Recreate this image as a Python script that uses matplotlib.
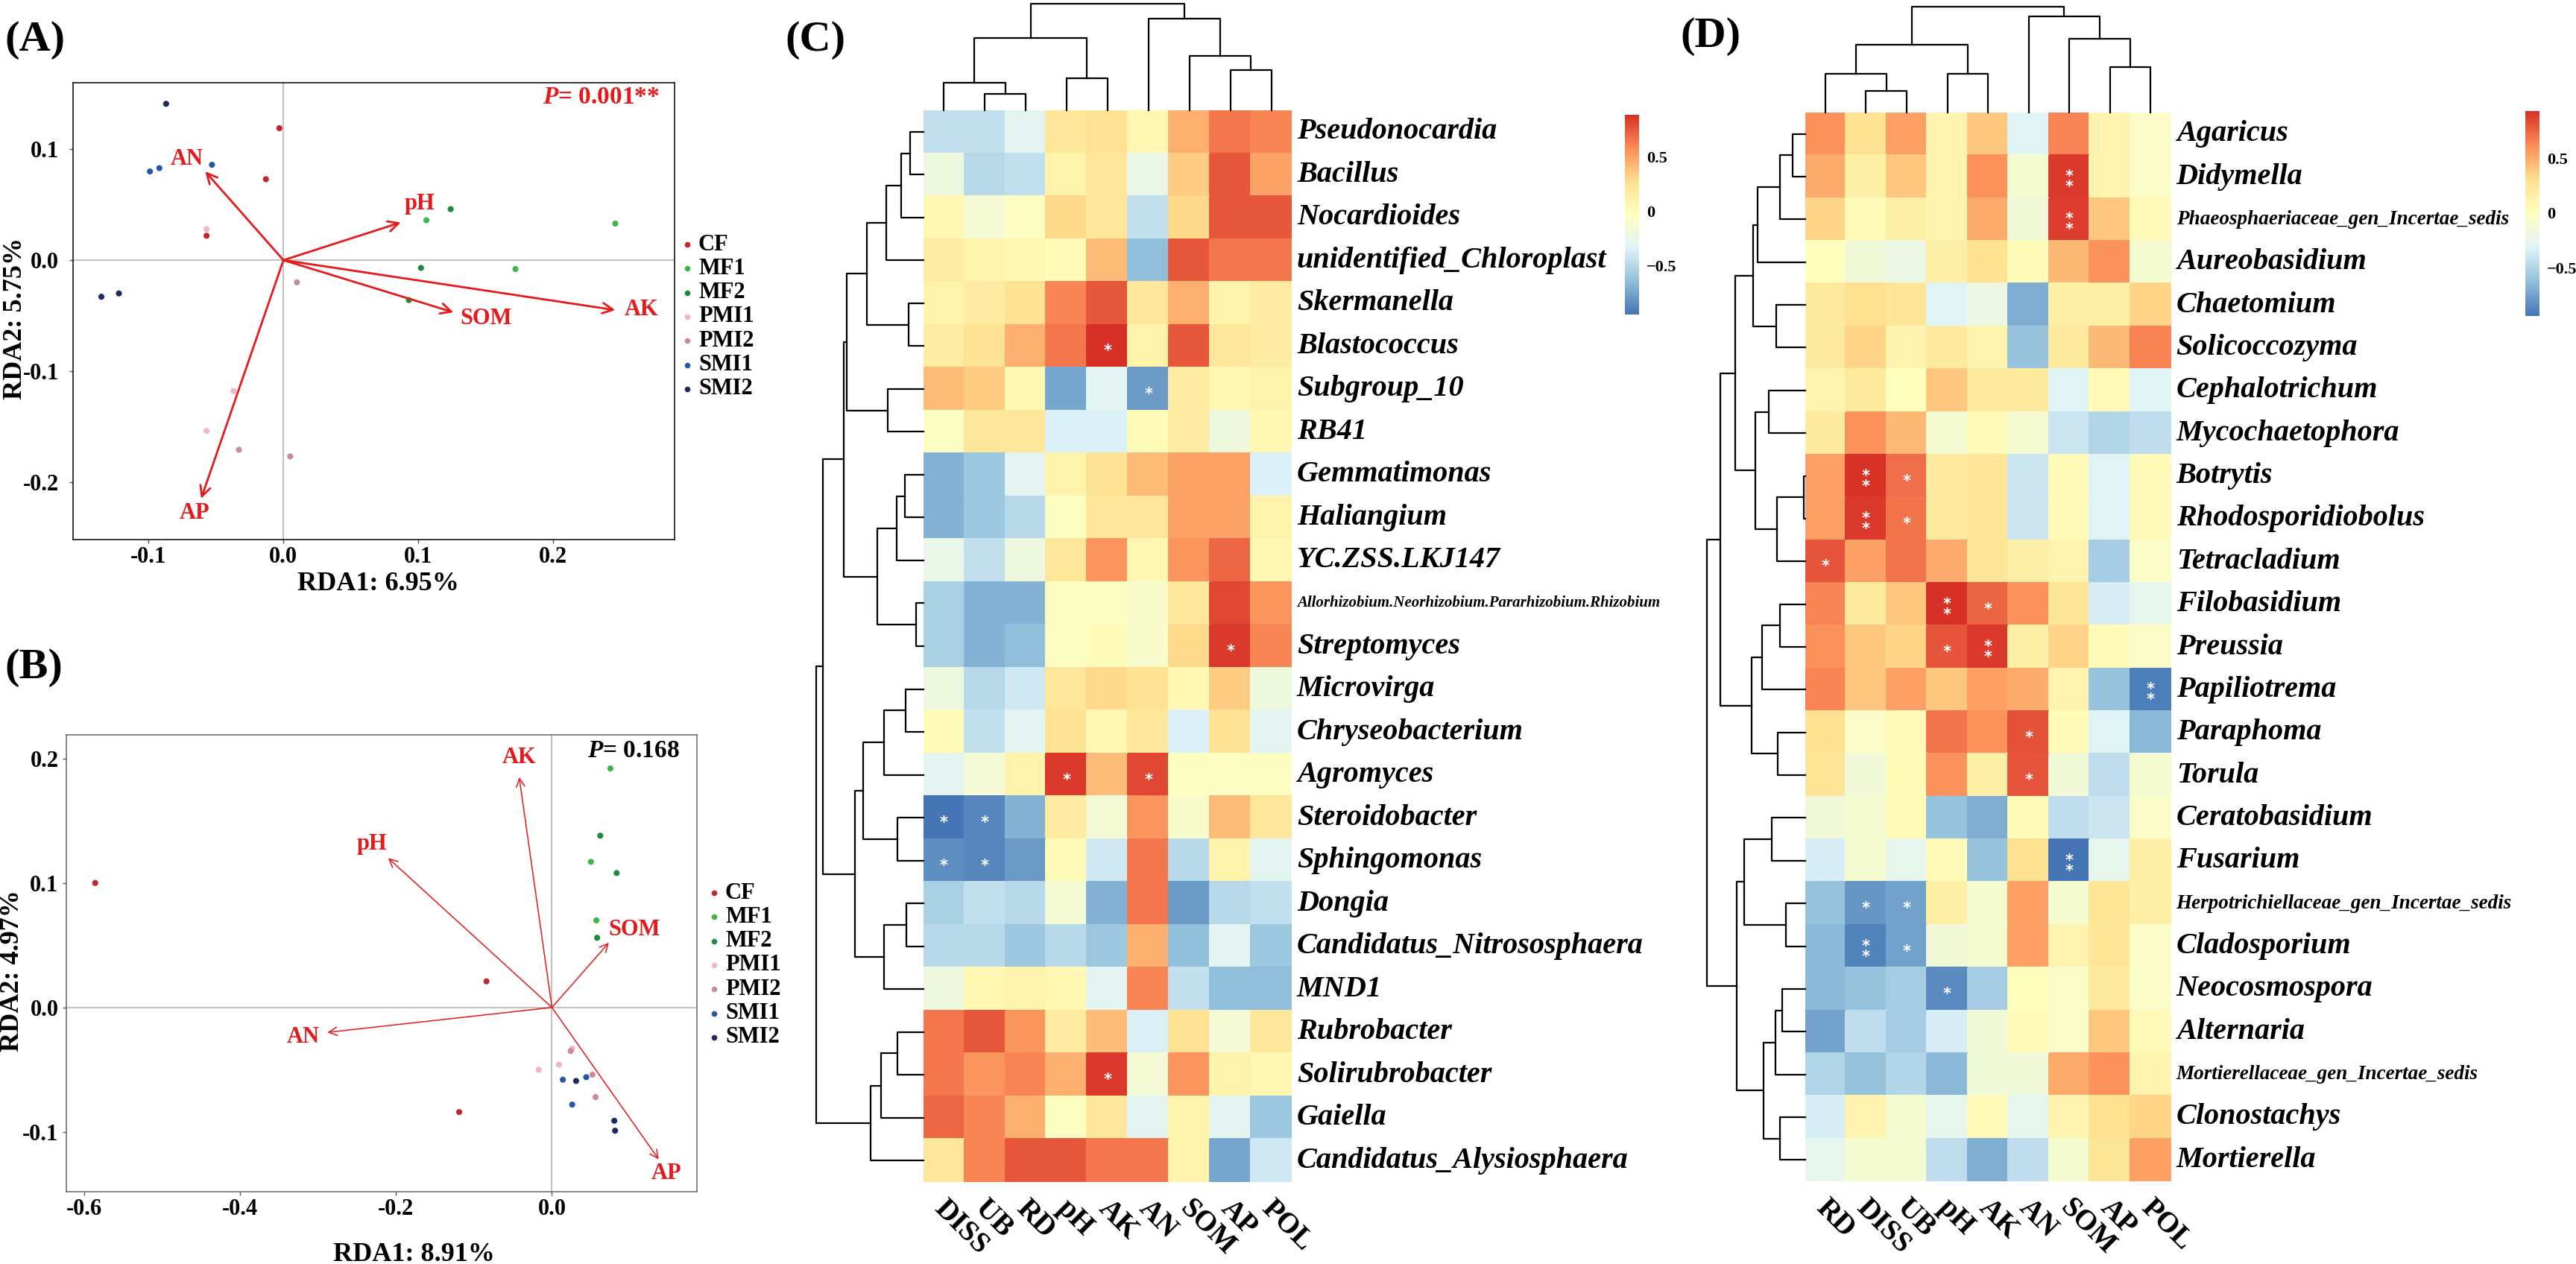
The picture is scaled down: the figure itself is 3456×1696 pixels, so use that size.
import numpy as np
import matplotlib
matplotlib.use("Agg")
import matplotlib.pyplot as plt
from matplotlib.colors import LinearSegmentedColormap, Normalize
from matplotlib.cm import ScalarMappable
from matplotlib.lines import Line2D
from matplotlib.transforms import offset_copy

plt.rcParams['font.family'] = ['Liberation Serif', 'DejaVu Serif']
plt.rcParams['font.weight'] = 'bold'
plt.rcParams['mathtext.fontset'] = 'custom'
plt.rcParams['mathtext.it'] = 'Liberation Serif:italic:bold'
plt.rcParams['mathtext.rm'] = 'Liberation Serif:bold'

W, H = 3456, 1696
RED = '#E41A1C'

# ---------------- data ----------------
groups = ['CF', 'MF1', 'MF2', 'PMI1', 'PMI2', 'SMI1', 'SMI2']
group_colors = ['#C0272D', '#3DB549', '#1E8A3E', '#F3B4C3', '#C78C9C', '#2656A8', '#1B2B5E']
env_names = ['AN', 'pH', 'SOM', 'AK', 'AP']

# (A) RDA, bacteria
a_grp = ['CF'] * 3 + ['MF1'] * 3 + ['MF2'] * 3 + ['PMI1'] * 3 + ['PMI2'] * 3 + ['SMI1'] * 3 + ['SMI2'] * 3
a_x = [-0.003, -0.013, -0.057, 0.106, 0.246, 0.172, 0.124, 0.102, 0.093,
       -0.057, -0.037, -0.057, 0.010, -0.033, 0.005, -0.099, -0.092, -0.053,
       -0.087, -0.135, -0.122]
a_y = [0.119, 0.073, 0.022, 0.036, 0.033, -0.008, 0.046, -0.007, -0.036,
       0.028, -0.118, -0.154, -0.020, -0.171, -0.177, 0.080, 0.083, 0.086,
       0.141, -0.033, -0.030]
a_env_x = [-0.058, 0.087, 0.126, 0.246, -0.061]
a_env_y = [0.080, 0.034, -0.047, -0.045, -0.215]
a_xticks = [-0.1, 0.0, 0.1, 0.2]
a_xticklabels = ['-0.1', '0.0', '0.1', '0.2']
a_yticks = [-0.2, -0.1, 0.0, 0.1]
a_yticklabels = ['-0.2', '-0.1', '0.0', '0.1']

# (B) RDA, fungi
b_grp = a_grp
b_x = [-0.586, -0.084, -0.119, 0.075, 0.050, 0.057, 0.062, 0.083, 0.058,
       -0.017, 0.009, 0.026, 0.024, 0.052, 0.056, 0.014, 0.044, 0.026,
       0.031, 0.080, 0.081]
b_y = [0.100, 0.021, -0.084, 0.192, 0.117, 0.070, 0.138, 0.108, 0.056,
       -0.050, -0.046, -0.033, -0.035, -0.054, -0.072, -0.058, -0.056, -0.078,
       -0.059, -0.091, -0.099]
b_env_x = [-0.288, -0.210, 0.073, -0.042, 0.137]
b_env_y = [-0.020, 0.120, 0.052, 0.185, -0.122]
b_xticks = [-0.6, -0.4, -0.2, 0.0]
b_xticklabels = ['-0.6', '-0.4', '-0.2', '0.0']
b_yticks = [-0.1, 0.0, 0.1, 0.2]
b_yticklabels = ['-0.1', '0.0', '0.1', '0.2']

# (C) bacteria heatmap
c_cols = ['DISS', 'UB', 'RD', 'pH', 'AK', 'AN', 'SOM', 'AP', 'POL']
c_rows = ['Pseudonocardia', 'Bacillus', 'Nocardioides', 'unidentified_Chloroplast',
          'Skermanella', 'Blastococcus', 'Subgroup_10', 'RB41', 'Gemmatimonas',
          'Haliangium', 'YC.ZSS.LKJ147', 'Allorhizobium.Neorhizobium.Pararhizobium.Rhizobium',
          'Streptomyces', 'Microvirga', 'Chryseobacterium', 'Agromyces', 'Steroidobacter',
          'Sphingomonas', 'Dongia', 'Candidatus_Nitrososphaera', 'MND1', 'Rubrobacter',
          'Solirubrobacter', 'Gaiella', 'Candidatus_Alysiosphaera']
c_vals = [
    [-0.45, -0.45, -0.30, 0.20, 0.25, 0.05, 0.45, 0.65, 0.60],
    [-0.20, -0.50, -0.45, 0.10, 0.20, -0.25, 0.35, 0.75, 0.50],
    [0.05, -0.15, -0.05, 0.30, 0.20, -0.45, 0.30, 0.75, 0.75],
    [0.15, 0.10, 0.05, 0.00, 0.40, -0.65, 0.75, 0.65, 0.65],
    [0.10, 0.15, 0.25, 0.60, 0.75, 0.20, 0.45, 0.10, 0.15],
    [0.15, 0.25, 0.45, 0.65, 0.88, 0.10, 0.75, 0.20, 0.15],
    [0.40, 0.35, 0.05, -0.75, -0.30, -0.80, 0.15, 0.05, 0.10],
    [-0.05, 0.20, 0.20, -0.35, -0.35, 0.00, 0.15, -0.20, 0.05],
    [-0.70, -0.60, -0.30, 0.10, 0.25, 0.40, 0.50, 0.50, -0.35],
    [-0.70, -0.60, -0.50, -0.05, 0.20, 0.20, 0.50, 0.50, 0.10],
    [-0.25, -0.45, -0.20, 0.20, 0.55, 0.05, 0.55, 0.70, 0.05],
    [-0.55, -0.70, -0.70, -0.05, -0.05, -0.10, 0.20, 0.80, 0.55],
    [-0.55, -0.70, -0.65, -0.05, 0.00, -0.10, 0.30, 0.85, 0.60],
    [-0.20, -0.50, -0.40, 0.20, 0.30, 0.25, 0.05, 0.35, -0.20],
    [0.00, -0.45, -0.30, 0.25, 0.05, 0.20, -0.35, 0.25, -0.30],
    [-0.30, -0.15, 0.10, 0.85, 0.40, 0.80, -0.05, -0.05, -0.05],
    [-0.95, -0.88, -0.70, 0.15, -0.15, 0.55, -0.10, 0.40, 0.20],
    [-0.85, -0.88, -0.80, 0.00, -0.40, 0.65, -0.50, 0.10, -0.30],
    [-0.55, -0.45, -0.50, -0.15, -0.70, 0.65, -0.80, -0.50, -0.45],
    [-0.50, -0.50, -0.60, -0.50, -0.60, 0.45, -0.65, -0.30, -0.60],
    [-0.20, 0.05, 0.10, 0.05, -0.30, 0.60, -0.45, -0.65, -0.65],
    [0.65, 0.75, 0.55, 0.15, 0.40, -0.35, 0.25, -0.15, 0.20],
    [0.65, 0.55, 0.60, 0.45, 0.85, -0.15, 0.55, 0.10, 0.05],
    [0.70, 0.60, 0.45, -0.05, 0.20, -0.30, 0.10, -0.30, -0.60],
    [0.20, 0.60, 0.75, 0.75, 0.65, 0.65, 0.10, -0.75, -0.40],
]
c_sig = [('Blastococcus', 'AK', '*'), ('Subgroup_10', 'AN', '*'), ('Streptomyces', 'AP', '*'),
         ('Agromyces', 'pH', '*'), ('Agromyces', 'AN', '*'), ('Steroidobacter', 'DISS', '*'),
         ('Steroidobacter', 'UB', '*'), ('Sphingomonas', 'DISS', '*'), ('Sphingomonas', 'UB', '*'),
         ('Solirubrobacter', 'AK', '*')]
# hierarchical merges: (left, right, height); new nodes are numbered after the leaves
c_row_merges = [(0, 1, 52), (25, 2, 90), (26, 3, 148), (4, 5, 58), (27, 28, 227),
                (6, 7, 142), (29, 30, 308), (8, 9, 73), (32, 10, 108), (11, 12, 28),
                (33, 34, 183), (31, 35, 318), (13, 14, 72), (37, 15, 158), (16, 17, 105),
                (38, 39, 240), (18, 19, 68), (41, 20, 158), (40, 42, 273), (36, 43, 403),
                (21, 22, 104), (45, 23, 170), (46, 24, 210), (44, 47, 430)]
c_col_merges = [(1, 2, 20), (0, 9, 34), (3, 4, 40), (10, 11, 90), (7, 8, 50),
                (6, 13, 67), (5, 14, 114), (12, 15, 132)]
c_range = (-0.952, 0.884)

# (D) fungi heatmap
d_cols = ['RD', 'DISS', 'UB', 'pH', 'AK', 'AN', 'SOM', 'AP', 'POL']
d_rows = ['Agaricus', 'Didymella', 'Phaeosphaeriaceae_gen_Incertae_sedis', 'Aureobasidium',
          'Chaetomium', 'Solicoccozyma', 'Cephalotrichum', 'Mycochaetophora', 'Botrytis',
          'Rhodosporidiobolus', 'Tetracladium', 'Filobasidium', 'Preussia', 'Papiliotrema',
          'Paraphoma', 'Torula', 'Ceratobasidium', 'Fusarium',
          'Herpotrichiellaceae_gen_Incertae_sedis', 'Cladosporium', 'Neocosmospora',
          'Alternaria', 'Mortierellaceae_gen_Incertae_sedis', 'Clonostachys', 'Mortierella']
d_vals = [
    [0.60, 0.30, 0.55, 0.10, 0.40, -0.30, 0.65, 0.10, -0.05],
    [0.50, 0.15, 0.40, 0.10, 0.60, -0.10, 0.90, 0.10, -0.05],
    [0.35, 0.05, 0.15, 0.10, 0.50, -0.15, 0.88, 0.40, 0.05],
    [0.00, -0.15, -0.20, 0.15, 0.30, 0.05, 0.45, 0.60, -0.10],
    [0.20, 0.30, 0.25, -0.30, -0.20, -0.70, 0.15, 0.15, 0.35],
    [0.20, 0.35, 0.10, 0.20, 0.10, -0.60, 0.20, 0.45, 0.65],
    [0.10, 0.20, 0.00, 0.40, 0.20, 0.20, -0.30, 0.05, -0.30],
    [0.20, 0.60, 0.45, -0.10, 0.05, -0.10, -0.40, -0.50, -0.45],
    [0.55, 0.92, 0.72, 0.20, 0.25, -0.40, 0.05, -0.30, 0.05],
    [0.55, 0.90, 0.70, 0.20, 0.25, -0.40, 0.05, -0.30, 0.05],
    [0.80, 0.55, 0.70, 0.50, 0.25, 0.15, 0.10, -0.55, -0.05],
    [0.65, 0.20, 0.40, 0.93, 0.75, 0.60, 0.25, -0.35, -0.25],
    [0.60, 0.40, 0.35, 0.80, 0.90, 0.15, 0.35, 0.05, -0.05],
    [0.65, 0.40, 0.55, 0.40, 0.55, 0.50, 0.10, -0.60, -0.90],
    [0.30, -0.05, 0.05, 0.70, 0.60, 0.82, 0.05, -0.30, -0.65],
    [0.25, -0.15, 0.05, 0.60, 0.15, 0.80, -0.15, -0.45, -0.10],
    [-0.15, -0.10, 0.05, -0.60, -0.70, 0.05, -0.45, -0.40, -0.05],
    [-0.35, -0.10, -0.25, 0.05, -0.60, 0.30, -0.94, -0.25, 0.15],
    [-0.60, -0.80, -0.75, 0.15, -0.10, 0.55, -0.10, 0.25, 0.15],
    [-0.65, -0.88, -0.75, -0.15, -0.10, 0.55, 0.10, 0.25, -0.05],
    [-0.65, -0.60, -0.55, -0.85, -0.55, 0.00, -0.05, 0.20, -0.05],
    [-0.75, -0.45, -0.55, -0.35, -0.15, 0.05, -0.05, 0.40, 0.05],
    [-0.50, -0.60, -0.50, -0.65, -0.15, -0.15, 0.50, 0.60, 0.10],
    [-0.35, 0.10, -0.10, -0.25, 0.05, -0.25, 0.10, 0.30, 0.35],
    [-0.25, -0.10, -0.10, -0.45, -0.70, -0.45, -0.10, 0.25, 0.55],
]
d_sig = [('Didymella', 'SOM', '**'), ('Phaeosphaeriaceae_gen_Incertae_sedis', 'SOM', '**'),
         ('Botrytis', 'DISS', '**'), ('Botrytis', 'UB', '*'),
         ('Rhodosporidiobolus', 'DISS', '**'), ('Rhodosporidiobolus', 'UB', '*'),
         ('Tetracladium', 'RD', '*'), ('Filobasidium', 'pH', '**'), ('Filobasidium', 'AK', '*'),
         ('Preussia', 'pH', '*'), ('Preussia', 'AK', '**'), ('Papiliotrema', 'POL', '**'),
         ('Paraphoma', 'AN', '*'), ('Torula', 'AN', '*'), ('Fusarium', 'SOM', '**'),
         ('Herpotrichiellaceae_gen_Incertae_sedis', 'DISS', '*'),
         ('Herpotrichiellaceae_gen_Incertae_sedis', 'UB', '*'),
         ('Cladosporium', 'DISS', '**'), ('Cladosporium', 'UB', '*'), ('Neocosmospora', 'pH', '*')]
d_row_merges = [(0, 1, 50), (25, 2, 101), (26, 3, 193), (4, 5, 117), (27, 28, 210),
                (6, 7, 148), (8, 9, 5), (31, 10, 113), (30, 32, 200), (29, 33, 283),
                (11, 12, 101), (35, 13, 173), (14, 15, 111), (36, 37, 218), (34, 38, 343),
                (16, 17, 135), (18, 19, 78), (40, 41, 246), (20, 21, 93), (43, 22, 121),
                (23, 24, 101), (44, 45, 168), (42, 46, 278), (39, 47, 398)]
d_col_merges = [(1, 2, 27), (0, 9, 48), (3, 4, 48), (10, 11, 85), (7, 8, 57),
                (6, 13, 92), (5, 14, 120), (12, 15, 132)]
d_range = (-0.94, 0.93)

cmap = LinearSegmentedColormap.from_list(
    'rdylbu', ['#4575B4', '#91BFDB', '#E0F3F8', '#FFFFBF', '#FEE090', '#FC8D59', '#D73027'])

fig = plt.figure(figsize=(W / 100, H / 100), dpi=100)


# pixel box (left, top, right, bottom) -> figure fraction rect
def box(l, t, r, b):
    return [l / W, 1 - b / H, (r - l) / W, (b - t) / H]


def ftext(x, y, s, **kw):
    fig.text(x / W, 1 - y / H, s, **kw)


# ---------------- RDA panels ----------------
def rda(rect, xs, ys, grp, ex, ey, xlim, ylim, xt, xtl, yt, ytl, arrow_lw, head,
        lab_style, ptext, pcolor, spine_col, ypad):
    ax = fig.add_axes(rect)
    ax.axhline(0, color='#C4C4C4', lw=1.6, zorder=0)
    ax.axvline(0, color='#C4C4C4', lw=1.6, zorder=0)
    xs = np.array(xs)
    ys = np.array(ys)
    grp = np.array(grp)
    for g, c in zip(groups, group_colors):
        m = grp == g
        ax.scatter(xs[m], ys[m], s=34, color=c, edgecolors='none', zorder=3)
    for name, x, y in zip(env_names, ex, ey):
        ax.annotate('', xy=(x, y), xytext=(0, 0),
                    arrowprops=dict(arrowstyle='->,head_length=0.5,head_width=0.25',
                                    color=RED, lw=arrow_lw, shrinkA=0, shrinkB=0,
                                    mutation_scale=head), zorder=4)
        ha, va, dx, dy = lab_style[name]
        ax.annotate(name, xy=(x, y), xytext=(dx, dy), textcoords='offset pixels',
                    ha=ha, va=va, color=RED, fontsize=22, fontweight='bold', zorder=5)
    ax.set_xlim(*xlim)
    ax.set_ylim(*ylim)
    ax.set_xticks(xt)
    ax.set_xticklabels(xtl)
    ax.set_yticks(yt)
    ax.set_yticklabels(ytl)
    ax.tick_params(axis='both', length=3.6, width=1, color='#555555', labelsize=22)
    ax.tick_params(axis='x', pad=3)
    ax.tick_params(axis='y', pad=ypad)
    for sp in ax.spines.values():
        sp.set_color(spine_col)
        sp.set_linewidth(1.1)
    ax.text(ptext[0], ptext[1], r'$P$= ' + ptext[2], transform=ax.transAxes, ha='right',
            va='center', fontsize=24, color=pcolor)
    return ax


a_style = {'AN': ('right', 'bottom', -3, 2), 'pH': ('left', 'bottom', 5, 10),
           'SOM': ('left', 'center', 9, -9), 'AK': ('left', 'center', 12, 1),
           'AP': ('center', 'top', -9, -5)}
b_style = {'AN': ('right', 'center', -11, -6), 'pH': ('right', 'bottom', -2, 4),
           'SOM': ('left', 'bottom', 0, 3), 'AK': ('center', 'bottom', 0, 12),
           'AP': ('center', 'top', 10, -4)}

rda(box(98, 111, 905, 724), a_x, a_y, a_grp, a_env_x, a_env_y, (-0.156, 0.29), (-0.252, 0.16),
    a_xticks, a_xticklabels, a_yticks, a_yticklabels, 2.0, 20, a_style,
    (1 - 20 / 807, 1 - 20 / 613, '0.001**'), RED, 'black', 10)
rda(box(89, 986, 935, 1599), b_x, b_y, b_grp, b_env_x, b_env_y, (-0.623, 0.186), (-0.148, 0.219),
    b_xticks, b_xticklabels, b_yticks, b_yticklabels, 1.1, 16, b_style,
    (1 - 23 / 846, 1 - 22 / 613, '0.168'), 'black', '#666666', 4)

ftext(507, 784, 'RDA1: 6.95%', ha='center', va='center', fontsize=26)
ftext(21, 427, 'RDA2: 5.75%', ha='center', va='center', fontsize=26, rotation=90)
ftext(555, 1683, 'RDA1: 8.91%', ha='center', va='center', fontsize=26)
ftext(17, 1303, 'RDA2: 4.97%', ha='center', va='center', fontsize=26, rotation=90)

# legends
for top, mx in [(328, 922), (1198, 958)]:
    for i, (g, c) in enumerate(zip(groups, group_colors)):
        yy = top + 32.3 * i
        fig.add_artist(Line2D([mx / W], [1 - yy / H], transform=fig.transFigure, marker='o',
                              ls='', markersize=5.5, color=c, markeredgewidth=0))
        ftext(mx + 15, yy, g, ha='left', va='center', fontsize=22)

for lab, x, y in [('(A)', 47, 54), ('(B)', 45, 896), ('(C)', 1094, 54), ('(D)', 2295, 49)]:
    ftext(x, y, lab, ha='center', va='center', fontsize=42)


# ---------------- heatmaps ----------------
# U-shaped links of a dendrogram, leaves at 0.5, 1.5, ...
def dendro(merges, n):
    pos = {i: i + 0.5 for i in range(n)}
    hgt = {i: 0.0 for i in range(n)}
    shapes = []
    for k, (a, b, h) in enumerate(merges):
        shapes.append(([pos[a], pos[a], pos[b], pos[b]], [hgt[a], h, h, hgt[b]]))
        pos[n + k] = (pos[a] + pos[b]) / 2
        hgt[n + k] = h
    return shapes


def heatmap(rows, cols, vals, sig, row_merges, col_merges, hm, rd, cd, cb, vr, long_fs):
    nr, nc = len(rows), len(cols)
    ax = fig.add_axes(box(*hm))
    norm = Normalize(vmin=vr[0], vmax=vr[1])
    ax.pcolormesh(np.arange(nc + 1), np.arange(nr + 1), np.array(vals), cmap=cmap, norm=norm,
                  edgecolors='face', linewidth=0.3)
    ax.set_xlim(0, nc)
    ax.set_ylim(nr, 0)
    ax.axis('off')

    tr_rows = offset_copy(ax.get_yaxis_transform(), fig=fig, x=7, y=0, units='dots')
    for i, r in enumerate(rows):
        fs = 29 if len(r) <= 30 else long_fs
        ax.text(1.0, i + 0.5, r, transform=tr_rows, ha='left', va='center', fontsize=fs,
                fontstyle='italic', fontweight='bold')
    tr_cols = offset_copy(ax.transData, fig=fig, x=-7, y=-30, units='dots')
    for j, c in enumerate(cols):
        ax.text(j + 0.5, nr, c, transform=tr_cols, ha='left', va='center', rotation=-45,
                rotation_mode='anchor', fontsize=28, fontweight='bold')

    for r, c, mark in sig:
        i, j = rows.index(r), cols.index(c)
        n = len(mark)
        for k in range(n):
            dy = -13 + (k - (n - 1) / 2) * 14
            t = offset_copy(ax.transData, fig=fig, x=0, y=dy, units='dots')
            ax.text(j + 0.5, i + 0.5, '*', transform=t, ha='center', va='baseline',
                    color='white', fontsize=15, family='DejaVu Sans', fontweight='bold')

    axr = fig.add_axes(box(*rd))
    for ys, hs in dendro(row_merges, nr):
        axr.add_line(Line2D(hs, ys, color='black', lw=1.6, clip_on=False))
    axr.set_xlim(max(m[2] for m in row_merges), 0)
    axr.set_ylim(nr, 0)
    axr.axis('off')

    axc = fig.add_axes(box(*cd))
    for xs, hs in dendro(col_merges, nc):
        axc.add_line(Line2D(xs, hs, color='black', lw=1.6, clip_on=False))
    axc.set_xlim(0, nc)
    axc.set_ylim(0, max(m[2] for m in col_merges))
    axc.axis('off')

    cax = fig.add_axes(box(*cb))
    bar = fig.colorbar(ScalarMappable(norm=norm, cmap=cmap), cax=cax)
    bar.outline.set_visible(False)
    bar.set_ticks([-0.5, 0, 0.5])
    bar.set_ticklabels(['\u22120.5', '0', '0.5'])
    cax.tick_params(length=0, pad=7, labelsize=16)


heatmap(c_rows, c_cols, c_vals, c_sig, c_row_merges, c_col_merges,
        (1238.7, 148, 1733, 1586), (1094.8, 148, 1238.7, 1586),
        (1238.7, 5, 1733, 148), (2180, 154, 2199, 422), c_range, 15)
heatmap(d_rows, d_cols, d_vals, d_sig, d_row_merges, d_col_merges,
        (2421.6, 151, 2912.6, 1585), (2290, 151, 2421.6, 1585),
        (2421.6, 9, 2912.6, 151), (3388, 149, 3407, 424), d_range, 19.5)

fig.savefig('out.png', dpi=100, facecolor='white')
